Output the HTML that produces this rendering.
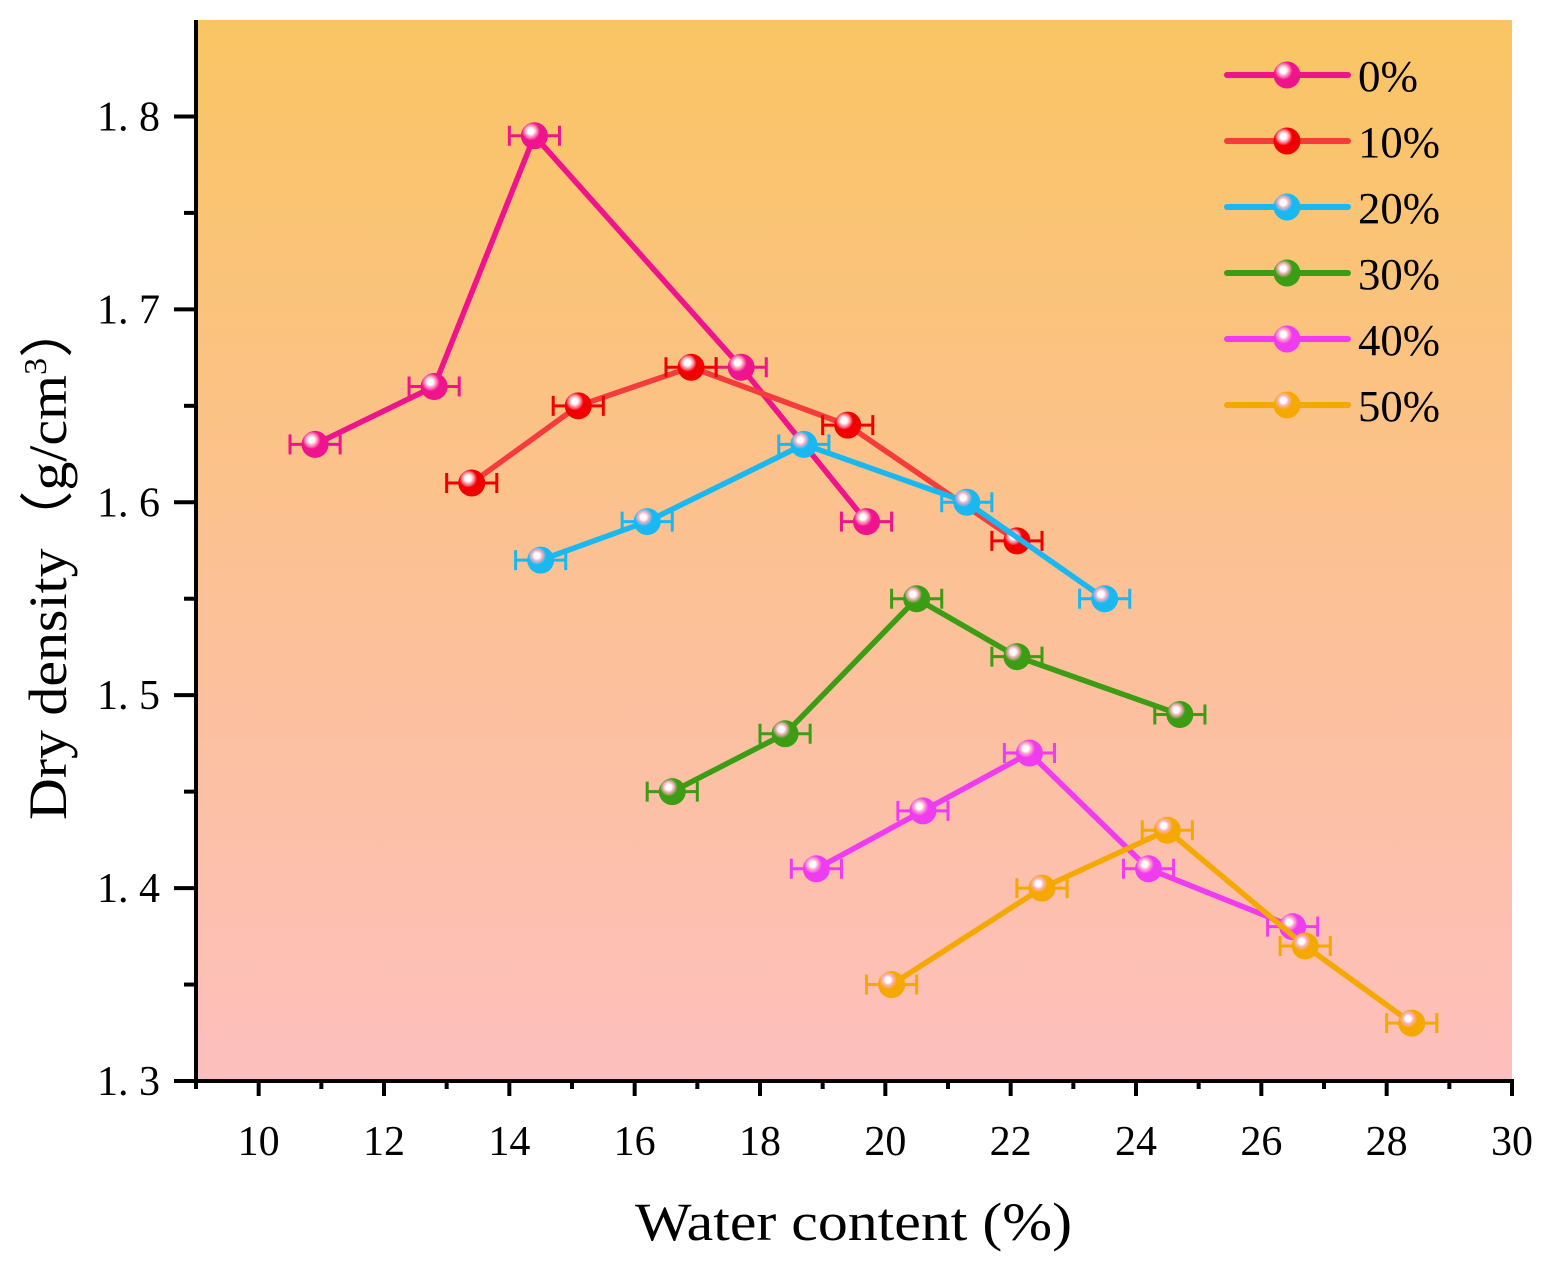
<!DOCTYPE html>
<html><head><meta charset="utf-8"><style>
html,body{margin:0;padding:0;background:#fff;}
svg{display:block;font-family:"Liberation Serif",serif;}
</style></head><body>
<svg id="chart" width="1553" height="1269" viewBox="0 0 1553 1269" xmlns="http://www.w3.org/2000/svg">
<defs>
<linearGradient id="bg" x1="0" y1="0" x2="0" y2="1">
<stop offset="0" stop-color="#f9c563"/><stop offset="0.5" stop-color="#fcc192"/><stop offset="1" stop-color="#fdbfbd"/>
</linearGradient>
</defs>
<rect x="196" y="20" width="1316" height="1061" fill="url(#bg)"/>
<g id="series"></g>
<g id="legend"></g>
<g id="axes"></g>
<text x="635" y="1240" font-size="54" textLength="437" lengthAdjust="spacingAndGlyphs">Water content (%)</text>
<text transform="translate(66,820) rotate(-90)" font-size="54" textLength="520" lengthAdjust="spacingAndGlyphs">Dry density（g/cm<tspan font-size="32" dy="-20">3</tspan><tspan dy="20">）</tspan></text>
</svg>
<script>
const seriesNames = ["0%","10%","20%","30%","40%","50%"];
const markerColors = ["#f0148c","#f00000","#1ab8f0","#3c9c14","#f03cf0","#f5a800"];
const lineColors = ["#f0148c","#f53c3c","#1ab8f0","#3c9c14","#f03cf0","#f5a800"];
const xs0 = [10.9,12.8,14.4,17.7,19.7];
const ys0 = [1.63,1.66,1.79,1.67,1.59];
const xs10 = [13.4,15.1,16.9,19.4,22.1];
const ys10 = [1.61,1.65,1.67,1.64,1.58];
const xs20 = [14.5,16.2,18.7,21.3,23.5];
const ys20 = [1.57,1.59,1.63,1.60,1.55];
const xs30 = [16.6,18.4,20.5,22.1,24.7];
const ys30 = [1.45,1.48,1.55,1.52,1.49];
const xs40 = [18.9,20.6,22.3,24.2,26.5];
const ys40 = [1.41,1.44,1.47,1.41,1.38];
const xs50 = [20.1,22.5,24.5,26.7,28.4];
const ys50 = [1.35,1.40,1.43,1.37,1.33];
const xErr = [0.4,0.4,0.4,0.4,0.4];
const xTicks = [10,12,14,16,18,20,22,24,26,28,30];
const yTicks = [1.3,1.4,1.5,1.6,1.7,1.8];

const NS="http://www.w3.org/2000/svg";
const X0=9,X1=30,PX0=196,PX1=1512;
const Y0=1.3,Y1=1.85,PY0=1081,PY1=20;
function sx(v){return PX0+(v-X0)/(X1-X0)*(PX1-PX0);}
function sy(v){return PY0+(v-Y0)/(Y1-Y0)*(PY1-PY0);}
function mk(tag,attrs,parent){const e=document.createElementNS(NS,tag);for(const k in attrs)e.setAttribute(k,attrs[k]);parent.appendChild(e);return e;}
const svg=document.getElementById('chart');
const defs=svg.querySelector('defs');
markerColors.forEach((c,i)=>{
  const g=mk('radialGradient',{id:'m'+i,cx:'0.38',cy:'0.35',r:'0.6',fx:'0.36',fy:'0.33'},defs);
  mk('stop',{offset:'0','stop-color':'#ffffff'},g);
  mk('stop',{offset:'0.18','stop-color':'#ffffff'},g);
  mk('stop',{offset:'0.32','stop-color':'#ffb0c8','stop-opacity':'0.9'},g);
  mk('stop',{offset:'0.55','stop-color':c},g);
  mk('stop',{offset:'1','stop-color':c},g);
});
const allX=[xs0,xs10,xs20,xs30,xs40,xs50], allY=[ys0,ys10,ys20,ys30,ys40,ys50];
const sg=document.getElementById('series');
allX.forEach((xs,i)=>{
  const g=mk('g',{},sg);
  
  
  const pl=mk('polyline',{points:xs.map((x,j)=>sx(x)+','+sy(allY[i][j])).join(' '),fill:'none',stroke:lineColors[i],'stroke-width':5.5,'stroke-linejoin':'round'},g);
  
  
  xs.forEach((x,j)=>{
    const cy=sy(allY[i][j]), xa=sx(x-xErr[j]), xb=sx(x+xErr[j]);
    const eb=mk('path',{d:`M${xa},${cy}H${xb}M${xa},${cy-10}V${cy+10}M${xb},${cy-10}V${cy+10}`,stroke:markerColors[i],'stroke-width':3,fill:'none'},g);
    
    
    const c=mk('circle',{cx:sx(x),cy:cy,r:13.5,fill:'url(#m'+i+')'},g);
    
    
  });
});
const lg=document.getElementById('legend');
seriesNames.forEach((n,i)=>{
  const y=75+66*i;
  const g=mk('g',{},lg);
  
  
  mk('line',{x1:1227,x2:1348,y1:y,y2:y,stroke:lineColors[i],'stroke-width':6,'stroke-linecap':'round'},g);
  mk('circle',{cx:1287,cy:y,r:13.5,fill:'url(#m'+i+')'},g);
  const t=mk('text',{x:1358,y:y+16,'font-size':44,textLength:(n.length===2?60:82),lengthAdjust:'spacingAndGlyphs'},g);t.textContent=n;
});
const ax=document.getElementById('axes');
const xa=mk('g',{},ax);


mk('line',{x1:174,x2:1514,y1:1081,y2:1081,stroke:'#000','stroke-width':4},xa);
for(let v=X0;v<=X1;v++){
  const major=xTicks.includes(v);
  mk('line',{x1:sx(v),x2:sx(v),y1:1081,y2:major?1096:1089,stroke:'#000','stroke-width':4},xa);
}
xTicks.forEach(v=>{const t=mk('text',{x:sx(v),y:1155,'font-size':42,'text-anchor':'middle'},xa);t.textContent=v;});
const ya=mk('g',{},ax);


mk('line',{x1:196,x2:196,y1:20,y2:1083,stroke:'#000','stroke-width':4},ya);
for(let k=0;k<=10;k++){
  const v=Y0+k*0.05, major=k%2===0;
  mk('line',{x1:major?174:184,x2:196,y1:sy(v),y2:sy(v),stroke:'#000','stroke-width':4},ya);
}
yTicks.forEach(v=>{const t=mk('text',{x:160,y:sy(v)+14,'font-size':42,'text-anchor':'end'},ya);t.textContent=v.toFixed(1).replace('.','. ');});
</script>
</body></html>
